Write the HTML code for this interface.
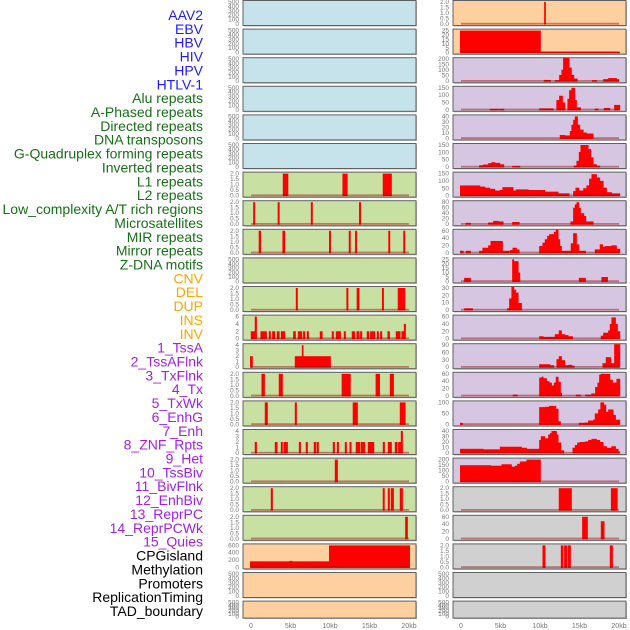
<!DOCTYPE html>
<html><head><meta charset="utf-8"><style>
html,body{margin:0;padding:0;background:#fff;width:630px;height:630px;overflow:hidden}
svg{display:block;font-family:"Liberation Sans",sans-serif}
</style></head><body>
<svg id="c" width="630" height="630"></svg>
<script>
const labels=["AAV2","EBV","HBV","HIV","HPV","HTLV-1","Alu repeats","A-Phased repeats","Directed repeats","DNA transposons","G-Quadruplex forming repeats","Inverted repeats","L1 repeats","L2 repeats","Low_complexity A/T rich regions","Microsatellites","MIR repeats","Mirror repeats","Z-DNA motifs","CNV","DEL","DUP","INS","INV","1_TssA","2_TssAFlnk","3_TxFlnk","4_Tx","5_TxWk","6_EnhG","7_Enh","8_ZNF_Rpts","9_Het","10_TssBiv","11_BivFlnk","12_EnhBiv","13_ReprPC","14_ReprPCWk","15_Quies","CPGisland","Methylation","Promoters","ReplicationTiming","TAD_boundary"];
const labelGroups=[6,13,5,15,5];
const groupColors=["#1c1cff","#167016","#ffa500","#a020f0","#000000"];
const xTickLabels=["0","5kb","10kb","15kb","20kb"];
const xTickKb=[0,5,10,15,20];
const leftBg=["b","b","b","b","b","b","g","g","g","g","g","g","g","g","g","g","g","g","g","o","o","o"];
const rightBg=["o","o","p","p","p","p","p","p","p","p","p","p","p","p","p","p","p","g2","g2","g2","g2","g2"];
const leftTicks=[[0,100,200,300,400,500],[0,100,200,300,400,500],[0,100,200,300,400,500],[0,100,200,300,400,500],[0,100,200,300,400,500],[0,100,200,300,400,500],[0,0.5,1,1.5,2],[0,0.5,1,1.5,2],[0,0.5,1,1.5,2],[0,100,200,300,400,500],[0,0.5,1,1.5,2],[0,2,4,6],[0,1,2,3,4],[0,0.5,1,1.5,2],[0,0.5,1,1.5,2],[0,1,2,3,4],[0,0.5,1,1.5,2],[0,0.5,1,1.5,2],[0,0.5,1,1.5,2],[0,200,400,600],[0,100,200,300,400,500],[0,100,200,300,400,500]];
const rightTicks=[[0,0.5,1,1.5,2],[0,5,10,15,20,25],[0,50,100,150,200],[0,50,100,150],[0,10,20,30,40],[0,50,100,150],[0,50,100,150],[0,20,40,60,80],[0,20,40,60],[0,5,10,15,20,25],[0,10,20,30],[0,20,40,60],[0,30,60,90],[0,20,40,60],[0,50,100],[0,10,20,30,40],[0,50,100,150,200],[0,0.5,1,1.5,2],[0,20,40,60],[0,0.5,1,1.5,2],[0,100,200,300,400,500],[0,100,200,300,400,500]];
const leftMax=[500,500,500,500,500,500,2,2,2,500,2,6,4,2,2,4,2,2,2,620,500,500];
const rightMax=[2,25,210,180,45,160,195,80,65,25,38,75,110,75,140,42,235,2,75,2,500,500];
// segments: [startKb, endKb, value]
const L6=[[4.05,4.7,2],[11.6,12.2,2],[16.7,17.8,2]];
const L7=[[0.3,0.5,2],[3.4,3.6,2],[7.6,7.8,2],[13.7,13.9,2]];
const L8=[[1.0,1.25,2],[4.0,4.3,2],[9.9,10.1,2],[12.4,12.6,2],[13.2,13.4,2],[17.4,17.6,2],[19.3,19.5,2]];
const L10=[[5.7,5.9,2],[12.1,12.3,2],[13.4,13.7,2],[16.6,16.8,2],[18.6,19.5,2]];
const L11=[[0,0.63,2],[0.5,0.72,6],[1.22,1.98,2],[2.28,2.49,2],[2.7,3.04,2],[3.29,3.59,2],[3.8,4.3,2],[5.36,5.65,2],[5.95,6.46,2],[6.62,6.84,2],[7.09,7.3,2],[8.73,9.03,2],[10.25,10.46,2],[10.76,11.35,2],[11.77,11.98,2],[12.78,13.16,2],[13.38,13.71,2],[13.84,14.05,2],[14.68,14.94,2],[15.1,15.7,2],[15.95,16.16,2],[16.37,16.58,2],[17.3,17.55,2],[18.35,18.9,2],[19.07,19.37,2],[19.37,19.58,4]];
const L12=[[-0.1,0.2,2],[5.57,10.08,2],[6.46,6.62,4]];
const L13=[[1.35,1.73,2],[3.54,4.0,2],[11.5,12.6,2],[15.8,16.3,2],[17.6,18.06,2]];
const L14=[[1.77,2.1,2],[5.57,5.78,2],[12.9,13.5,2],[18.86,19.54,2]];
const L15=[[0.5,0.72,2],[3.04,3.33,2],[3.8,4.0,2],[4.14,4.64,2],[6.08,6.29,2],[6.96,7.17,2],[7.97,8.23,2],[8.35,8.56,2],[10.38,10.59,2],[10.89,11.1,2],[11.9,12.11,2],[12.49,12.7,2],[13.29,13.8,2],[13.92,14.43,2],[14.81,15.57,2],[16.71,16.92,2],[17.34,17.8,2],[18.23,18.52,2],[18.65,18.99,2],[18.99,19.2,4]];
const L16=[[10.63,10.97,2]];
const L17=[[2.53,2.74,2],[16.7,16.9,2],[17.34,17.55,2],[17.72,18.06,2],[18.86,19.2,2]];
const L18=[[19.54,19.83,2]];
const L19=[[-0.1,9.9,170],[4.9,5.2,185],[9.9,20.1,620]];
const R0=[[10.55,10.72,2]];
const R1=[[-0.1,10.08,25],[10.08,20.1,1]];
const R2=[[10.5,11.35,12],[11.9,12.45,10],[12.45,12.74,60],[12.74,12.95,110],[12.95,13.71,240],[13.71,14.0,130],[14.0,14.3,60],[14.3,14.73,25],[16.62,17.17,10],[18.02,18.65,20],[18.65,19.7,30],[19.7,20.0,20]];
const R3=[[3.67,4.73,8],[4.81,5.44,8],[9.92,11.69,12],[12.1,12.45,80],[12.45,12.87,115],[12.87,13.16,60],[13.5,13.71,90],[13.71,14.0,160],[14.0,14.43,180],[14.43,14.64,80],[14.64,15.15,20],[16.96,17.38,10],[18.1,18.86,15],[19.41,20.13,40]];
const R4=[[12.53,13.16,7],[13.16,13.8,6],[13.8,14.0,15],[14.0,14.22,28],[14.22,14.43,38],[14.43,14.77,45],[14.77,15.06,28],[15.06,15.49,18],[15.49,15.9,12],[15.9,16.75,10]];
const R5=[[2.32,2.83,13],[2.83,3.46,18],[3.46,3.88,28],[3.88,4.3,35],[4.3,4.94,30],[4.94,5.44,20],[6.5,7.47,8],[14.3,14.64,10],[14.64,14.94,45],[14.94,15.15,110],[15.15,16.12,160],[16.12,16.46,130],[16.46,16.75,70],[16.75,17.17,20],[17.17,17.59,10]];
const R6=[[-0.1,2.4,90],[2.4,3.04,80],[3.04,3.67,70],[3.67,4.3,60],[4.3,4.94,45],[4.94,5.27,50],[5.27,6.62,75],[6.62,6.96,45],[6.96,8.52,55],[8.52,10.63,50],[10.63,12.32,35],[12.32,13.71,20],[14.22,14.51,40],[14.51,14.94,70],[14.94,15.49,45],[15.49,15.9,65],[15.9,16.24,90],[16.24,16.54,150],[16.54,17.17,190],[17.17,17.59,160],[17.59,18.02,130],[18.02,18.44,70],[18.44,19.07,30],[19.07,20.13,20]];
const R7=[[0.63,1.22,5],[3.46,4.1,6],[4.1,4.73,12],[4.73,5.36,10],[6.5,7.38,8],[13.88,14.22,10],[14.22,14.43,60],[14.43,14.64,72],[14.64,14.94,80],[14.94,15.15,60],[15.15,15.57,40],[15.57,15.82,30],[15.82,16.75,10]];
const R8=[[-0.1,0.3,6],[0.63,1.22,6],[2.32,2.74,6],[2.74,3.46,15],[3.46,3.76,22],[3.76,5.27,35],[5.27,6.12,6],[6.2,6.54,8],[6.54,7.05,15],[7.05,7.38,10],[9.92,10.34,20],[10.34,10.63,30],[10.63,10.93,40],[10.93,11.18,50],[11.18,11.77,55],[11.77,12.02,62],[12.02,12.32,68],[12.32,12.53,40],[12.53,12.74,20],[12.74,13.92,6],[13.92,14.22,28],[14.22,14.64,58],[14.64,14.94,25],[14.94,15.78,6],[16.96,17.59,10],[17.59,17.93,25],[17.93,18.23,18],[18.23,19.07,20],[19.07,19.7,22],[19.7,20.13,12]];
const R9=[[0.42,1.22,4],[6.5,6.71,25],[6.71,7.26,23],[7.26,7.47,10],[14.94,15.78,4],[17.8,18.57,5]];
const R10=[[0.42,1.48,3],[5.86,6.12,3],[6.12,6.41,20],[6.41,6.71,40],[6.71,6.96,35],[6.96,7.26,30],[7.26,7.68,12]];
const R11=[[9.92,10.42,8],[10.42,11.9,6],[11.9,12.4,15],[12.4,12.74,28],[12.74,13.16,15],[13.16,13.59,12],[13.59,14.14,8],[17.72,18.02,10],[18.02,18.65,20],[18.65,18.86,28],[18.86,19.07,50],[19.07,19.58,72],[19.58,19.83,50],[19.83,20.13,25]];
const R12=[[9.92,11.27,15],[11.27,11.77,10],[12.11,12.4,40],[12.4,12.74,55],[12.74,13.16,35],[13.16,13.59,10],[13.59,14.01,12],[14.01,14.35,8],[17.93,18.35,20],[18.35,18.99,50],[18.99,19.41,20],[19.41,20.13,115]];
const R13=[[6.58,7.13,4],[9.92,10.21,62],[10.21,10.42,65],[10.42,10.84,60],[10.84,11.18,50],[11.18,11.48,45],[11.48,11.77,35],[11.77,12.02,45],[12.02,12.32,65],[12.32,12.61,48],[12.61,12.74,10],[14.56,15.15,4],[15.74,16.46,4],[16.5,17.0,8],[17.0,17.3,30],[17.3,17.51,45],[17.51,17.72,72],[17.72,18.86,75],[18.86,19.2,55],[19.2,19.7,45],[19.7,20.13,58]];
const R14=[[-0.1,0.2,10],[9.92,10.63,110],[10.63,11.18,112],[11.18,12.02,118],[12.02,12.32,100],[12.32,12.61,20],[14.94,15.7,10],[15.7,16.12,12],[16.12,16.75,25],[16.75,16.96,30],[16.96,17.38,70],[17.38,17.67,95],[17.67,18.1,140],[18.1,18.35,125],[18.35,18.65,80],[18.65,19.28,95],[19.28,19.58,60],[19.58,20.13,30]];
const R15=[[-0.1,2.83,8],[2.83,4.94,7],[4.94,7.68,12],[7.68,8.31,10],[8.31,9.92,8],[9.92,10.13,25],[10.13,10.63,32],[10.63,11.05,28],[11.05,11.27,35],[11.27,11.48,38],[11.48,12.11,42],[12.11,12.32,35],[12.32,12.66,20],[12.66,13.04,5],[14.14,14.43,10],[14.43,14.73,15],[14.73,15.06,20],[15.06,15.7,21],[15.7,16.12,22],[16.12,16.54,25],[16.54,17.17,27],[17.17,17.59,25],[17.59,18.02,21],[18.02,18.44,13],[18.44,19.07,10],[19.07,19.58,13],[19.58,19.92,8],[19.92,20.13,3]];
const R16=[[-0.1,3.8,175],[3.8,5.15,170],[5.15,6.41,185],[6.41,6.84,160],[6.84,7.13,170],[7.13,7.47,190],[7.47,8.31,215],[8.31,10.08,235]];
const R17=[[12.4,14.0,2],[19.0,19.8,2]];
const R18=[[15.36,16.03,75],[17.72,18.14,60]];
const R19=[[10.34,10.67,2],[12.66,12.95,2],[13.08,13.42,2],[13.54,13.88,2],[18.86,19.2,2]];
const leftData=[[],[],[],[],[],[],L6,L7,L8,[],L10,L11,L12,L13,L14,L15,L16,L17,L18,L19,[],[]];
const rightData=[R0,R1,R2,R3,R4,R5,R6,R7,R8,R9,R10,R11,R12,R13,R14,R15,R16,R17,R18,R19,[],[]];

const NS="http://www.w3.org/2000/svg";
const svg=document.getElementById('c');
const bgColors={b:"#c6e3eb",g:"#c8e0a2",o:"#fecf9f",p:"#d6c6e2",g2:"#d0d0d0"};
function mk(tag,attrs,parent){const e=document.createElementNS(NS,tag);for(const k in attrs)e.setAttribute(k,attrs[k]);(parent||svg).appendChild(e);return e;}
const PITCH=28.6;
function rowTop(i){return i*PITCH+0.5;}
function rowH(i){return i===21?17:25;}
function xScale(col,kb){return (col===0?251:461)+kb*7.9;}
function yScale(i,v,max){const t=rowTop(i),h=rowH(i);const y0=t+h-1.5,y1=t+1.5;return y0-(v/max)*(y0-y1);}

let li=0;
labelGroups.forEach((n,g)=>{for(let k=0;k<n;k++){const t=mk('text',{x:203,y:15+li*13.86+5,'text-anchor':'end','font-size':14,fill:groupColors[g]});t.textContent=labels[li];


li++;}});

function panel(col,i){
  const px=col===0?243:453, t=rowTop(i), h=rowH(i);
  const g=mk('g',{});
  
  
  const bg=(col===0?leftBg:rightBg)[i];
  mk('rect',{x:px+1,y:t+1,width:173,height:h,fill:'#bbb'},g);
  mk('rect',{x:px,y:t,width:173,height:h,fill:bgColors[bg],stroke:'#606060','stroke-width':1},g);
  const max=(col===0?leftMax:rightMax)[i];
  const data=(col===0?leftData:rightData)[i];
  const clipId='cp'+col+'_'+i;
  const cp=mk('clipPath',{id:clipId},g);mk('rect',{x:px,y:t,width:173,height:h},cp);
  const dg=mk('g',{'clip-path':'url(#'+clipId+')'},g);
  const y0=yScale(i,0,max);
  data.forEach(d=>{
    const x1=xScale(col,d[0]),x2=xScale(col,d[1]),y=yScale(i,d[2],max);
    const r=mk('rect',{x:x1-0.2,y:y,width:Math.max(1.2,x2-x1)+0.4,height:y0-y+0.5,fill:'#ff0000'},dg);
    
    
  });
  if(i<20 && !(col===0&&i<6) && !(col===0&&i===9)){
    mk('rect',{x:xScale(col,0),y:y0-1.2,width:xScale(col,20)-xScale(col,0),height:1.8,fill:'rgba(170,0,0,0.45)'},dg);
  }
  const ticks=(col===0?leftTicks:rightTicks)[i];
  const tmax=ticks[ticks.length-1];
  ticks.forEach(v=>{
    const y=yScale(i,v,tmax)+2;
    const s=(tmax<=2)?v.toFixed(1):String(v);
    const tx=mk('text',{x:px-4,y:y,'text-anchor':'end','font-size':6.5,fill:'#777'},g);tx.textContent=s;
    
    
  });
}
for(let i=0;i<22;i++){panel(0,i);panel(1,i);}
[0,1].forEach(col=>{xTickKb.forEach((kb,k)=>{const t=mk('text',{x:xScale(col,kb),y:628,'text-anchor':'middle','font-size':7,fill:'#777'});t.textContent=xTickLabels[k];

});});
</script>
</body></html>
